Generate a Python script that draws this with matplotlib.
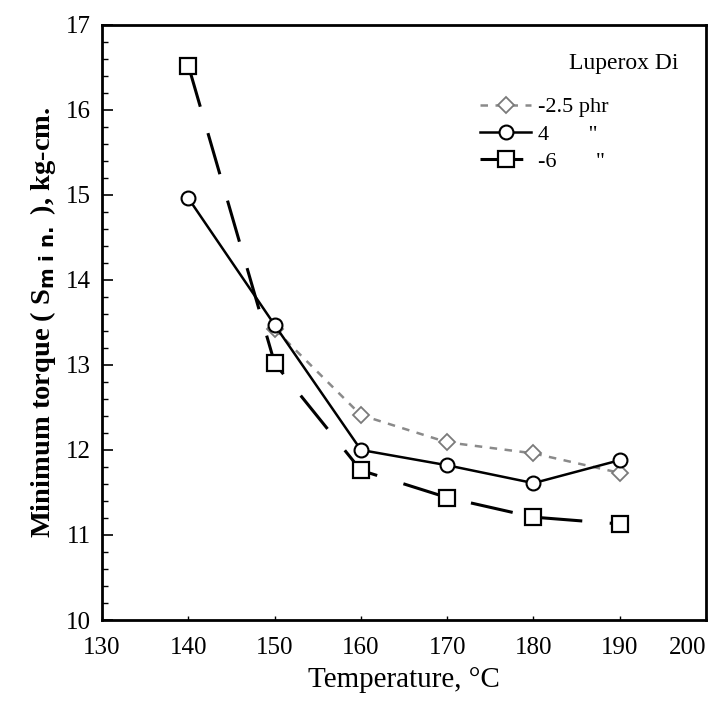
import matplotlib.pyplot as plt
from matplotlib.ticker import MultipleLocator

plt.rcParams['font.family'] = ['Liberation Serif', 'DejaVu Serif']

# Minimum torque vs temperature, Luperox Di levels
temp_25 = [150, 160, 170, 180, 190]
torque_25 = [13.42, 12.41, 12.09, 11.96, 11.73]

temp_4 = [140, 150, 160, 170, 180, 190]
torque_4 = [14.96, 13.47, 12.0, 11.82, 11.61, 11.88]

temp_6 = [140, 150, 160, 170, 180, 190]
torque_6 = [16.52, 13.02, 11.76, 11.44, 11.21, 11.13]

fig = plt.figure(figsize=(7.19, 7.09), dpi=100)
ax = fig.add_axes([0.142, 0.1255, 0.840, 0.8395])

ax.plot(temp_25, torque_25, color='#8a8a8a', lw=1.8, ls=(0, (3, 3)),
        marker='D', ms=8, mfc='white', mec='#7a7a7a', mew=1.3,
        label='-2.5 phr')
ax.plot(temp_4, torque_4, color='black', lw=1.8, ls='-',
        marker='o', ms=10, mfc='white', mec='black', mew=1.5,
        label='4       "')
ax.plot(temp_6, torque_6, color='black', lw=2.2, ls=(0, (14, 9)),
        marker='s', ms=11, mfc='white', mec='black', mew=1.6,
        label='-6       "')

ax.set_xlim(130, 200)
ax.set_ylim(10, 17)
ax.xaxis.set_major_locator(MultipleLocator(10))
ax.yaxis.set_major_locator(MultipleLocator(1))
ax.yaxis.set_minor_locator(MultipleLocator(0.2))
ax.tick_params(axis='y', which='major', direction='in', length=8, width=1.2,
               labelsize=18, right=False, pad=8)
ax.tick_params(axis='y', which='minor', direction='in', length=4, width=1)
ax.tick_params(axis='x', which='major', direction='in', length=3, width=1,
               labelsize=18, top=False, pad=12)
for s in ax.spines.values():
    s.set_linewidth(2)
for lab in ax.get_xticklabels():
    if lab.get_text() == '200':
        lab.set_horizontalalignment('right')
        lab.set_x(200)

ax.set_xlabel('Temperature, °C', fontsize=21, labelpad=6)
ax.set_ylabel('Minimum torque ( S$_{\\mathbf{m\\ i\\ n.}}$ ), kg-cm.',
              fontsize=20.5, fontweight='bold', labelpad=6)

ax.text(0.955, 0.935, 'Luperox Di', transform=ax.transAxes, fontsize=17,
        ha='right', va='center')
ax.legend(loc='upper left', bbox_to_anchor=(0.6, 0.905), frameon=False,
          fontsize=16, handlelength=2.3, handletextpad=0.3,
          labelspacing=0.3, borderpad=0.2)

fig.savefig('out.png', dpi=100)
